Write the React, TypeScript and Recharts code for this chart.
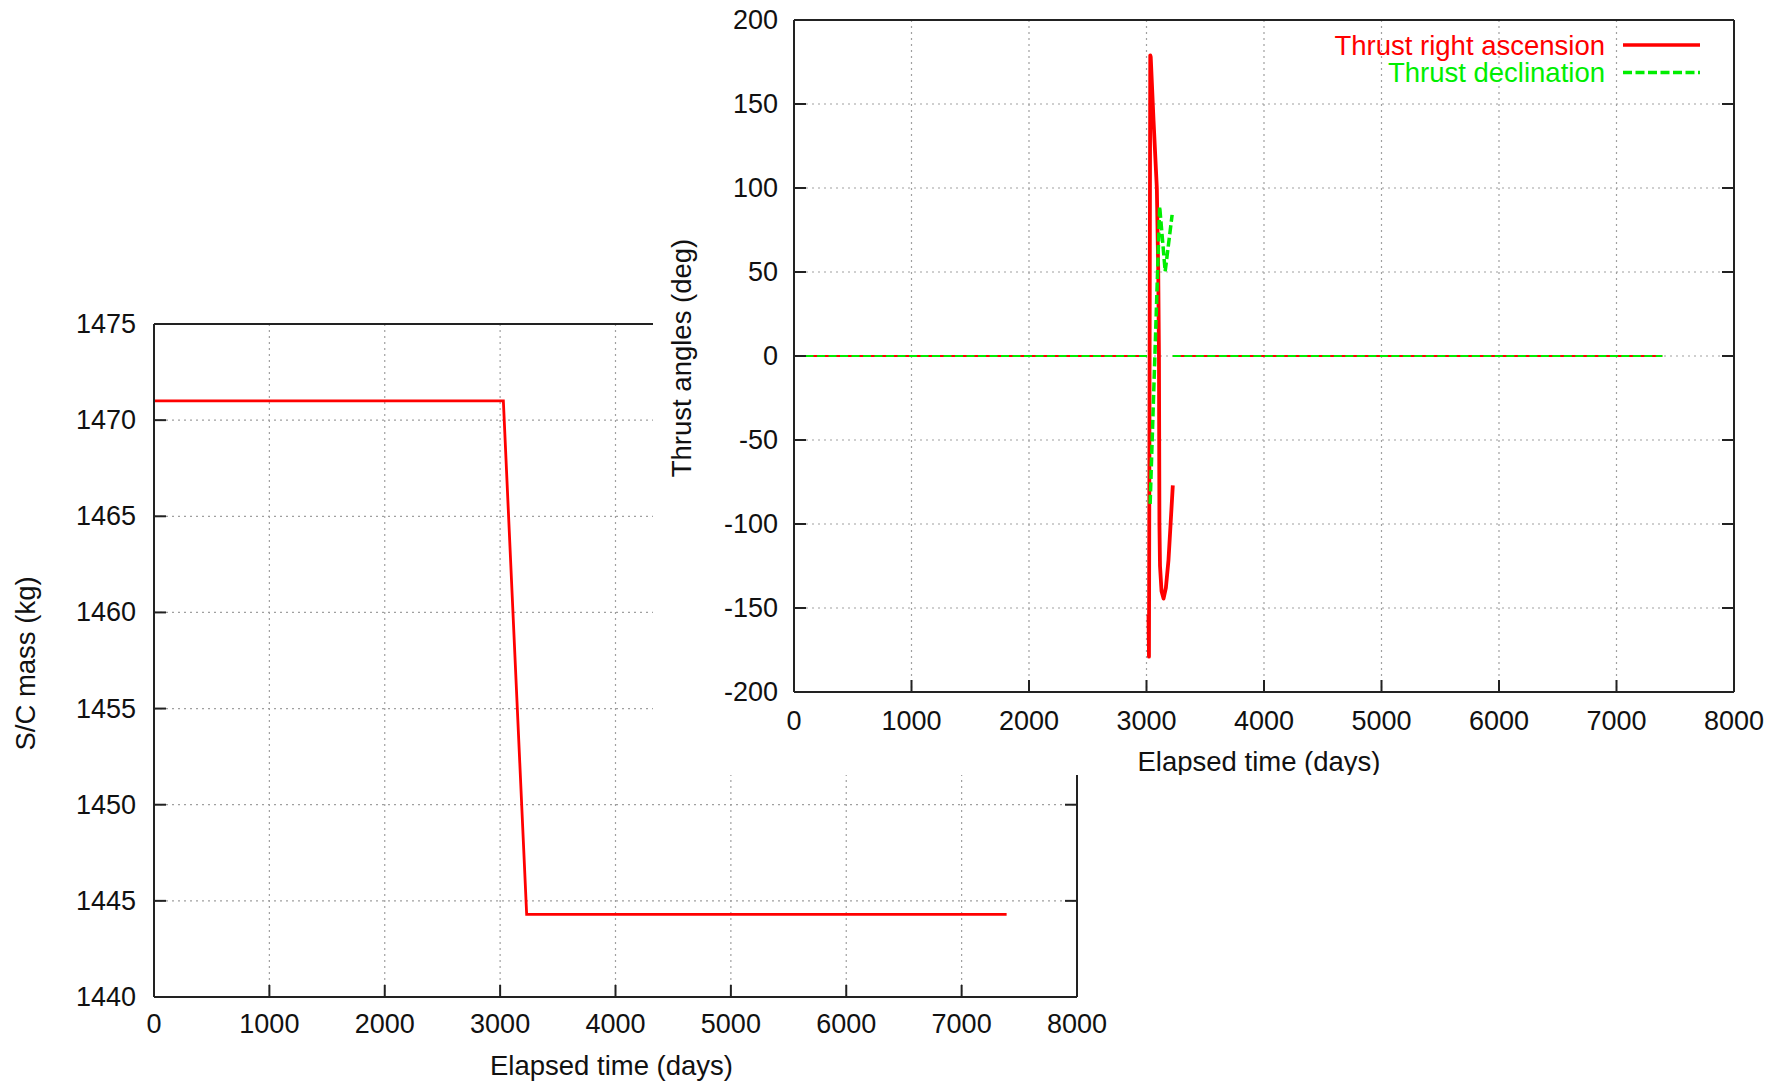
import React from 'react';
import { LineChart, Line, XAxis, YAxis, CartesianGrid, Legend } from 'recharts';

// ---- tick labels ----
const dayTicks = [0, 1000, 2000, 3000, 4000, 5000, 6000, 7000, 8000];
const massTicks = [1440, 1445, 1450, 1455, 1460, 1465, 1470, 1475];
const angleTicks = [-200, -150, -100, -50, 0, 50, 100, 150, 200];

// ---- S/C mass ----
const massDays = [0, 3028, 3230, 7390];
const massKg = [1471, 1471, 1444.3, 1444.3];

// ---- Thrust right ascension ----
const raZeroDays = [0, 3005, 3010, 3224, 7390];
const raZeroDeg: (number | null)[] = [0, 0, null, 0, 0];
const raArcDays = [3017, 3021, 3032, 3036, 3060, 3088, 3100, 3106, 3108, 3110, 3115, 3128, 3145, 3165, 3187, 3205, 3224];
const raArcDeg = [-154, -179, 179, 178, 140, 100, 50, 0, -50, -100, -125, -140, -144.4, -138, -121.6, -100, -77];

// ---- Thrust declination ----
const decZeroDays = [0, 3005, 3010, 3224, 7390];
const decZeroDeg: (number | null)[] = [0, 0, null, 0, 0];
const decArcDays = [3031, 3112, 3159, 3218];
const decArcDeg = [-88, 89, 50.4, 84];

const legendOrder = ['Thrust right ascension', 'Thrust declination'];

const pts = (xs: number[], ys: (number | null)[]) => xs.map((d, i) => ({ day: d, val: ys[i] }));

const FONT = '"Liberation Sans", Arial, Helvetica, sans-serif';
const FS = 27;
const FT = 27.5;
const INK = '#222';
const AXIS = { stroke: INK, strokeWidth: 2 };
const TL = 12;
const RED = '#ff0000';
const GREEN = '#00ee00';

// custom ticks: inward tick marks (gnuplot style) + outside labels
const bottomTick = (off: number) => (p: any) => (
  <g>
    <line x1={p.x} x2={p.x} y1={p.y} y2={p.y - TL} stroke={INK} strokeWidth={2} />
    <text x={p.x} y={p.y + off} textAnchor="middle" dominantBaseline="central" fontSize={FS} fill="#111">
      {p.payload.value}
    </text>
  </g>
);
const leftTick = (off: number) => (p: any) => (
  <g>
    <line x1={p.x} x2={p.x + TL} y1={p.y} y2={p.y} stroke={INK} strokeWidth={2} />
    <text x={p.x - off} y={p.y} textAnchor="end" dominantBaseline="central" fontSize={FS} fill="#111">
      {p.payload.value}
    </text>
  </g>
);
const topTick = (p: any) => <line x1={p.x} x2={p.x} y1={p.y} y2={p.y + TL} stroke={INK} strokeWidth={2} />;
const rightTick = (p: any) => <line x1={p.x} x2={p.x - TL} y1={p.y} y2={p.y} stroke={INK} strokeWidth={2} />;

const xTitle = (dy: number, dx: number) => (p: any) => {
  const vb = p.viewBox || {};
  return (
    <text x={vb.x + vb.width / 2 + dx} y={vb.y + dy} textAnchor="middle" dominantBaseline="central" fontSize={FT} fill="#111">
      Elapsed time (days)
    </text>
  );
};

const yTitle = (text: string, cx: number, dy: number) => (p: any) => {
  const vb = p.viewBox || {};
  const cy = vb.y + vb.height / 2 + dy;
  return (
    <text x={cx} y={cy} textAnchor="middle" dominantBaseline="central" fontSize={FT} fill="#111" transform={`rotate(-90 ${cx} ${cy})`}>
      {text}
    </text>
  );
};

const renderLegend = (props: any) => {
  const items = (props.payload || [])
    .filter((it: any) => legendOrder.indexOf(it.value) >= 0)
    .sort((a: any, b: any) => legendOrder.indexOf(a.value) - legendOrder.indexOf(b.value));
  return (
    <svg width={1125} height={100} style={{ display: 'block' }}>
      {items.map((it: any, i: number) => {
        const y = 45 + i * 27.5;
        const dash = it.payload && it.payload.strokeDasharray;
        return (
          <g key={i}>
            <text x={952} y={y} textAnchor="end" dominantBaseline="central" fill={it.color} fontSize={FT}>
              {it.value}
            </text>
            <line x1={970} x2={1047} y1={y} y2={y} stroke={it.color} strokeWidth={3.5} strokeDasharray={dash} />
          </g>
        );
      })}
    </svg>
  );
};

const common = { type: 'number' as const, interval: 0, tickSize: 0, tickMargin: 0, tickLine: false, axisLine: AXIS, allowDataOverflow: true };

export default function App() {
  return (
    <div style={{ position: 'absolute', left: 0, top: 0, width: 1778, height: 1082, background: '#fff', fontFamily: FONT }}>
      {/* Left: spacecraft mass */}
      <div style={{ position: 'absolute', left: 0, top: 0 }}>
        <LineChart width={1140} height={1082} margin={{ top: 323, right: 62, bottom: 0, left: 0 }}>
          <CartesianGrid stroke="#a0a0a0" strokeDasharray="2 4" strokeWidth={1.2} />
          <XAxis {...common} dataKey="day" domain={[0, 8000]} ticks={dayTicks} height={85} tick={bottomTick(27)} label={{ content: xTitle(68, -4) }} />
          <XAxis {...common} xAxisId="top" orientation="top" domain={[0, 8000]} ticks={dayTicks} height={1} tick={topTick} />
          <YAxis {...common} domain={[1440, 1475]} ticks={massTicks} width={154} tick={leftTick(18)} label={{ content: yTitle('S/C mass (kg)', 25, 3) }} />
          <YAxis {...common} yAxisId="right" orientation="right" domain={[1440, 1475]} ticks={massTicks} width={1} tick={rightTick} />
          <Line data={pts(massDays, massKg)} dataKey="val" type="linear" stroke={RED} strokeWidth={2.8} dot={false} isAnimationActive={false} />
        </LineChart>
      </div>

      {/* Right: thrust angles */}
      <div style={{ position: 'absolute', left: 653, top: 0, background: '#fff' }}>
        <LineChart width={1125} height={775} margin={{ top: 19, right: 43, bottom: 0, left: 0 }}>
          <CartesianGrid stroke="#a0a0a0" strokeDasharray="2 4" strokeWidth={1.2} />
          <XAxis {...common} dataKey="day" domain={[0, 8000]} ticks={dayTicks} height={83} tick={bottomTick(28.5)} label={{ content: xTitle(69, -5) }} />
          <XAxis {...common} xAxisId="top" orientation="top" domain={[0, 8000]} ticks={dayTicks} height={1} tick={topTick} />
          <YAxis {...common} domain={[-200, 200]} ticks={angleTicks} width={141} tick={leftTick(16)} label={{ content: yTitle('Thrust angles (deg)', 28.5, 2) }} />
          <YAxis {...common} yAxisId="right" orientation="right" domain={[-200, 200]} ticks={angleTicks} width={1} tick={rightTick} />
          <Legend layout="vertical" verticalAlign="middle" align="center" content={renderLegend} wrapperStyle={{ left: 0, top: 0, width: 1125, height: 100 }} />
          <Line data={pts(raZeroDays, raZeroDeg)} dataKey="val" name="ra-zero" legendType="none" type="linear" stroke={RED} strokeWidth={2} dot={false} connectNulls={false} isAnimationActive={false} />
          <Line data={pts(raArcDays, raArcDeg)} dataKey="val" name="Thrust right ascension" type="linear" stroke={RED} strokeWidth={3.8} strokeLinejoin="round" dot={false} isAnimationActive={false} />
          <Line data={pts(decZeroDays, decZeroDeg)} dataKey="val" name="dec-zero" legendType="none" type="linear" stroke={GREEN} strokeWidth={2} strokeDasharray="8 3.5" dot={false} connectNulls={false} isAnimationActive={false} />
          <Line data={pts(decArcDays, decArcDeg)} dataKey="val" name="Thrust declination" type="linear" stroke={GREEN} strokeWidth={3.5} strokeDasharray="9 3.5" dot={false} isAnimationActive={false} />
        </LineChart>
      </div>
    </div>
  );
}
